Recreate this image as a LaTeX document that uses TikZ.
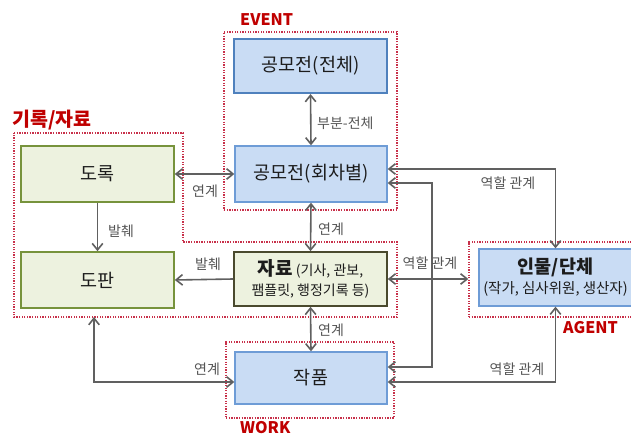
\documentclass[tikz,border=0pt]{standalone}
\usepackage{fontspec}
\setmainfont{Noto Sans CJK KR}
\usetikzlibrary{arrows.meta}
\definecolor{bfill}{HTML}{C9DCF4}
\definecolor{bline}{HTML}{6E9CD6}
\definecolor{bdark}{HTML}{4F81BD}
\definecolor{gfill}{HTML}{EDF2DF}
\definecolor{gline}{HTML}{77933C}
\definecolor{gdark}{HTML}{4A4A2E}
\definecolor{dotred}{HTML}{C8304A}
\definecolor{tred}{HTML}{C00000}
\definecolor{lgray}{HTML}{606060}
\definecolor{txt}{HTML}{1C1C1C}
\definecolor{labgray}{HTML}{555555}
\tikzset{
  tip/.tip={Straight Barb[length=6.5pt,width=10.5pt]},
  box/.style={draw, rectangle, inner sep=0pt, font=\fontsize{18.5}{21}\selectfont, text=txt, align=center},
  bluebox/.style={box, fill=bfill, draw=bline, line width=1.3pt},
  greenbox/.style={box, fill=gfill, draw=gline, line width=1.6pt},
  region/.style={draw=dotred, line width=1.3pt, dash pattern=on 1.3pt off 1.3pt},
  regionbox/.style={region, rectangle, inner sep=0pt},
  conn/.style={draw=lgray, line width=1.6pt, tip-tip},
  conn1/.style={draw=lgray, line width=1.6pt, -tip},
  lab/.style={font=\fontsize{14}{16}\selectfont, text=labgray, inner sep=1pt},
  ttl/.style={font=\fontsize{16}{18}\selectfont\bfseries, text=tred, inner sep=0pt},
}
\begin{document}
\begin{tikzpicture}[x=1pt,y=-1pt]
\useasboundingbox (0,0) rectangle (631,435);
\clip (0,0) rectangle (631,435);
\fill[white] (0,0) rectangle (631,435);

% regions
\node[regionbox, minimum width=173pt, minimum height=178pt] (evreg) at (310.5,121) {};
\node[regionbox, minimum width=175pt, minimum height=75pt] (agreg) at (556.5,279.5) {};
\node[regionbox, minimum width=168pt, minimum height=76pt] (wkreg) at (310,380) {};
\draw[region] (14,133) -- (183,133) -- (183,242) -- (397,242) -- (397,317) -- (14,317) -- cycle;
\coordinate (recb) at (94,317);

% titles
\node[ttl, anchor=west] (tev) at (240,20) {EVENT};
\node[ttl, anchor=west, font=\fontsize{19.5}{21}\selectfont\bfseries] (trec) at (12,120) {기록/자료};
\node[ttl, anchor=west] (tag) at (563,328) {AGENT};
\node[ttl, anchor=west] (twk) at (240,428) {WORK};

% boxes
\node[bluebox, draw=bdark, line width=2pt, minimum width=153pt, minimum height=54pt] (ev1) at (310.5,66) {공모전(전체)};
\node[bluebox, minimum width=152pt, minimum height=56pt] (ev2) at (311,174) {공모전(회차별)};
\node[greenbox, minimum width=153pt, minimum height=56pt] (dorok) at (97.5,174) {도록};
\node[greenbox, minimum width=153pt, minimum height=56pt] (dopan) at (97.5,280) {도판};
\node[greenbox, draw=gdark, minimum width=153pt, minimum height=54pt] (jaryo) at (310.5,279)
  {\fontsize{19}{17}\selectfont\bfseries 자료\,\fontsize{14}{17}\selectfont\mdseries(기사, 관보,\\[-1pt]\fontsize{14}{17}\selectfont 팸플릿, 행정기록 등)};
\node[bluebox, minimum width=153pt, minimum height=57pt] (inmul) at (555.5,277.5)
  {\fontsize{18.5}{20}\selectfont\bfseries 인물/단체\\[-1pt]\fontsize{14.5}{17}\selectfont\mdseries (작가, 심사위원, 생산자)};
\node[bluebox, minimum width=152pt, minimum height=52pt] (jakpum) at (311,378) {작품};

% connectors
\draw[conn] (ev1.south) -- (ev2.north);
\node[lab, anchor=west] (l1) at (316,123) {부분-전체};

\draw[conn] (dorok.east) -- (ev2.west);
\node[lab] (l2) at (205,191) {연계};

\draw[conn] ([yshift=5pt]ev2.east) -| (inmul.north);
\node[lab] (l3) at (508,183) {역할 관계};

\coordinate (c1) at ([yshift=-9pt]ev2.east);
\coordinate (c2) at ([yshift=11pt]jakpum.east);
\coordinate (cx) at (432,0);
\draw[conn] (c1) -- (c1 -| cx) -- (c2 -| cx) -- (c2);

\draw[conn] (ev2.south) -- (jaryo.north);
\node[lab, anchor=west] (l4) at (317,229) {연계};

\draw[conn] (jaryo.south) -- (jakpum.north);
\node[lab, anchor=west] (l5) at (317,330) {연계};

\draw[conn1] (jaryo.west) -- (dopan.east);
\node[lab] (l6) at (208,264) {발췌};

\draw[conn1] (dorok.south) -- (dopan.north);
\node[lab] (l7) at (121,231) {발췌};

\draw[conn] (jaryo.east) -- (jaryo.east -| agreg.west);
\node[lab] (l8) at (430,263) {역할 관계};

\draw[conn] (recb) |- ([yshift=-4pt]jakpum.west);
\node[lab] (l9) at (207,369) {연계};

\draw[conn] ([yshift=-4pt]jakpum.east) -| (inmul.south);
\node[lab] (l10) at (517,369) {역할 관계};
\end{tikzpicture}
\end{document}
